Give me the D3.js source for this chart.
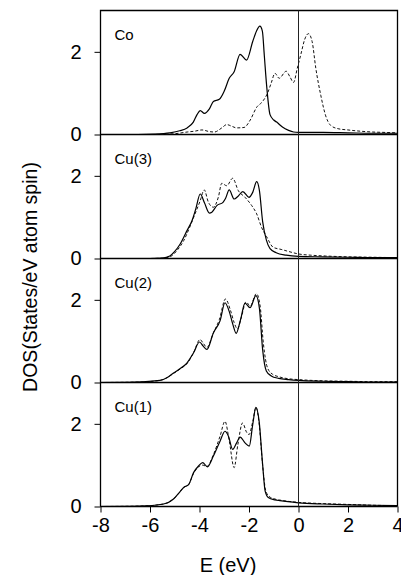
<!DOCTYPE html>
<html>
<head>
<meta charset="utf-8">
<script src="https://cdn.jsdelivr.net/npm/d3@7"></script>
<style>
 body { margin: 0; background: #fff; }
 text { font-family: "Liberation Sans", Arial, Helvetica, sans-serif; fill: #000; }
</style>
</head>
<body>
<script>
const width = 401;
const height = 575;

// panel names, top to bottom
const panels = ["Co", "Cu(3)", "Cu(2)", "Cu(1)"];
const xTicks = [-8, -6, -4, -2, 0, 2, 4];
const yTicks = [0, 2];

// [E (eV), DOS]
const coSolid = [[-8,0],[-6.5,0],[-5.8,0.01],[-5.2,0.04],[-4.8,0.09],[-4.5,0.16],[-4.25,0.3],[-4.1,0.48],[-3.97,0.58],[-3.8,0.51],[-3.6,0.62],[-3.44,0.8],[-3.2,0.85],[-3.0,1.05],[-2.8,1.36],[-2.6,1.52],[-2.36,1.94],[-2.1,1.8],[-1.85,2.25],[-1.7,2.5],[-1.56,2.62],[-1.46,2.5],[-1.38,1.9],[-1.29,1.2],[-1.15,0.48],[-1.0,0.35],[-0.88,0.3],[-0.65,0.18],[-0.4,0.1],[-0.2,0.06],[0,0.05],[1,0.05],[2,0.04],[3,0.03],[4,0.03]];
const coDashed = [[-8,0],[-6,0],[-5,0.02],[-4.5,0.06],[-4.2,0.08],[-3.9,0.11],[-3.6,0.07],[-3.4,0.06],[-3.1,0.16],[-2.9,0.24],[-2.7,0.2],[-2.5,0.16],[-2.2,0.17],[-1.95,0.35],[-1.7,0.65],[-1.45,0.8],[-1.25,1.0],[-1.1,1.25],[-0.95,1.48],[-0.78,1.36],[-0.5,1.53],[-0.35,1.4],[-0.2,1.26],[-0.05,1.6],[0.1,1.95],[0.25,2.3],[0.4,2.44],[0.55,2.25],[0.7,1.6],[0.9,0.95],[1.1,0.45],[1.3,0.22],[1.6,0.14],[2.0,0.11],[2.5,0.08],[3.0,0.06],[3.5,0.05],[4,0.04]];

const cu3Solid = [[-8,0],[-6,0],[-5.5,0.01],[-5.2,0.06],[-5.0,0.17],[-4.78,0.35],[-4.5,0.68],[-4.3,0.92],[-4.15,1.2],[-3.97,1.56],[-3.8,1.35],[-3.6,1.1],[-3.5,1.12],[-3.3,1.28],[-3.05,1.36],[-2.95,1.45],[-2.8,1.66],[-2.6,1.44],[-2.45,1.5],[-2.25,1.62],[-2.0,1.48],[-1.85,1.6],[-1.69,1.86],[-1.58,1.65],[-1.45,0.9],[-1.3,0.45],[-1.15,0.24],[-0.9,0.14],[-0.5,0.08],[0,0.05],[1,0.04],[2,0.03],[3,0.02],[4,0.02]];
const cu3Dashed = [[-8,0],[-6,0],[-5.5,0.01],[-5.2,0.04],[-4.9,0.2],[-4.64,0.43],[-4.4,0.75],[-4.2,1.05],[-3.97,1.4],[-3.81,1.66],[-3.64,1.36],[-3.44,1.24],[-3.24,1.48],[-3.1,1.82],[-2.9,1.76],[-2.66,1.94],[-2.43,1.64],[-2.16,1.48],[-1.89,1.28],[-1.69,1.08],[-1.49,0.75],[-1.29,0.53],[-1.02,0.27],[-0.7,0.22],[-0.4,0.17],[0,0.11],[0.5,0.08],[1.1,0.06],[2,0.04],[3,0.03],[4,0.02]];

const cu2Solid = [[-8,0],[-6.6,0.01],[-5.6,0.05],[-5.3,0.12],[-5.05,0.23],[-4.75,0.35],[-4.51,0.47],[-4.24,0.72],[-4.0,0.98],[-3.85,0.88],[-3.7,0.8],[-3.44,1.2],[-3.17,1.49],[-2.97,1.93],[-2.8,1.72],[-2.65,1.4],[-2.52,1.19],[-2.35,1.5],[-2.16,1.92],[-1.96,1.81],[-1.72,2.1],[-1.58,1.8],[-1.45,0.8],[-1.3,0.28],[-1.1,0.16],[-0.8,0.1],[-0.4,0.07],[0,0.05],[1,0.03],[2,0.02],[3,0.01],[4,0.01]];
const cu2Dashed = [[-8,0],[-6.5,0.01],[-5.6,0.05],[-5.3,0.12],[-5.05,0.22],[-4.75,0.34],[-4.5,0.46],[-4.24,0.72],[-3.98,1.04],[-3.85,0.95],[-3.7,0.85],[-3.44,1.2],[-3.2,1.52],[-2.95,2.02],[-2.75,1.75],[-2.6,1.45],[-2.47,1.3],[-2.3,1.6],[-2.12,1.95],[-1.95,1.85],[-1.7,2.15],[-1.55,1.85],[-1.42,0.95],[-1.25,0.35],[-1.05,0.2],[-0.8,0.14],[-0.4,0.09],[0,0.07],[1,0.04],[2,0.03],[3,0.02],[4,0.02]];

const cu1Solid = [[-8,0],[-6.4,0.01],[-5.45,0.06],[-5.05,0.18],[-4.8,0.35],[-4.64,0.46],[-4.44,0.53],[-4.24,0.82],[-4.04,0.98],[-3.87,1.06],[-3.68,0.96],[-3.44,1.22],[-3.17,1.58],[-2.97,1.82],[-2.83,1.7],[-2.66,1.38],[-2.5,1.54],[-2.36,1.68],[-2.16,1.54],[-1.99,1.46],[-1.85,1.98],[-1.72,2.4],[-1.59,2.06],[-1.45,1.02],[-1.35,0.38],[-1.22,0.22],[-0.95,0.16],[-0.75,0.14],[0,0.09],[1,0.06],[2,0.04],[3,0.03],[4,0.02]];
const cu1Dashed = [[-8,0],[-6.4,0.01],[-5.45,0.06],[-5.05,0.18],[-4.8,0.35],[-4.64,0.46],[-4.44,0.53],[-4.24,0.8],[-4.04,0.96],[-3.87,1.0],[-3.7,0.97],[-3.44,1.25],[-3.17,1.7],[-2.97,2.06],[-2.8,1.6],[-2.6,0.94],[-2.45,1.5],[-2.26,2.02],[-2.1,1.8],[-2.0,1.74],[-1.85,2.05],[-1.72,2.4],[-1.59,2.0],[-1.45,1.0],[-1.33,0.4],[-1.2,0.25],[-0.95,0.18],[-0.7,0.15],[0,0.1],[1,0.07],[2,0.05],[3,0.03],[4,0.02]];

const solids = [coSolid, cu3Solid, cu2Solid, cu1Solid];
const dashes = [coDashed, cu3Dashed, cu2Dashed, cu1Dashed];

const plotLeft = 100.5, plotRight = 397.5, plotTop = 10.5, panelH = 124;
const plotBottom = plotTop + 4 * panelH;

const svg = d3.select("body").append("svg")
  .attr("width", width)
  .attr("height", height);

svg.append("rect").attr("width", width).attr("height", height).attr("fill", "#fff");

const x = d3.scaleLinear().domain([-8, 4]).range([plotLeft, plotRight]);

panels.forEach((name, i) => {
  const y0 = plotTop + i * panelH;
  const y = d3.scaleLinear().domain([0, 3]).range([y0 + panelH, y0]);
  const g = svg.append("g");

  const line = d3.line()
    .x(d => x(d[0]))
    .y(d => y(d[1]))
    .curve(d3.curveMonotoneX);

  // zero line of the panel
  g.append("line")
    .attr("x1", plotLeft).attr("x2", plotRight)
    .attr("y1", y(0)).attr("y2", y(0))
    .attr("stroke", "#000").attr("stroke-width", 1.3);

  g.append("path")
    .datum(dashes[i])
    .attr("d", line)
    .attr("fill", "none")
    .attr("stroke", "#111")
    .attr("stroke-width", 1)
    .attr("stroke-dasharray", "3,2");

  g.append("path")
    .datum(solids[i])
    .attr("d", line)
    .attr("fill", "none")
    .attr("stroke", "#000")
    .attr("stroke-width", 1.2);

  const yAxis = g.append("g")
    .attr("transform", `translate(${plotLeft},0)`)
    .call(d3.axisLeft(y).tickValues(yTicks).tickSize(6).tickPadding(13).tickSizeOuter(0).tickFormat(d => String(d)));
  yAxis.select(".domain").remove();
  yAxis.selectAll("text").attr("font-size", 20).attr("font-family", "Liberation Sans, Arial, sans-serif");

  g.append("text")
    .attr("x", plotLeft + 14)
    .attr("y", y0 + 29)
    .attr("font-size", 15)
    .text(name);
});

// frame: left, top, right
svg.append("path")
  .attr("d", `M${plotLeft},${plotBottom}V${plotTop}H${plotRight}V${plotBottom}`)
  .attr("fill", "none").attr("stroke", "#000").attr("stroke-width", 1.3);

// Fermi level
svg.append("line")
  .attr("x1", x(0)).attr("x2", x(0))
  .attr("y1", plotTop).attr("y2", plotBottom)
  .attr("stroke", "#222").attr("stroke-width", 1);

const xAxis = svg.append("g")
  .attr("transform", `translate(0,${plotBottom})`)
  .call(d3.axisBottom(x).tickValues(xTicks).tickSize(6).tickPadding(5).tickSizeOuter(0).tickFormat(d => String(d)));
xAxis.select(".domain").remove();
xAxis.selectAll("text").attr("font-size", 20).attr("font-family", "Liberation Sans, Arial, sans-serif");

svg.append("text")
  .attr("x", 228)
  .attr("y", 572)
  .attr("text-anchor", "middle")
  .attr("font-size", 20)
  .text("E (eV)");

svg.append("text")
  .attr("transform", "translate(37,277) rotate(-90)")
  .attr("text-anchor", "middle")
  .attr("font-size", 19.5)
  .text("DOS(States/eV atom spin)");
</script>
</body>
</html>
